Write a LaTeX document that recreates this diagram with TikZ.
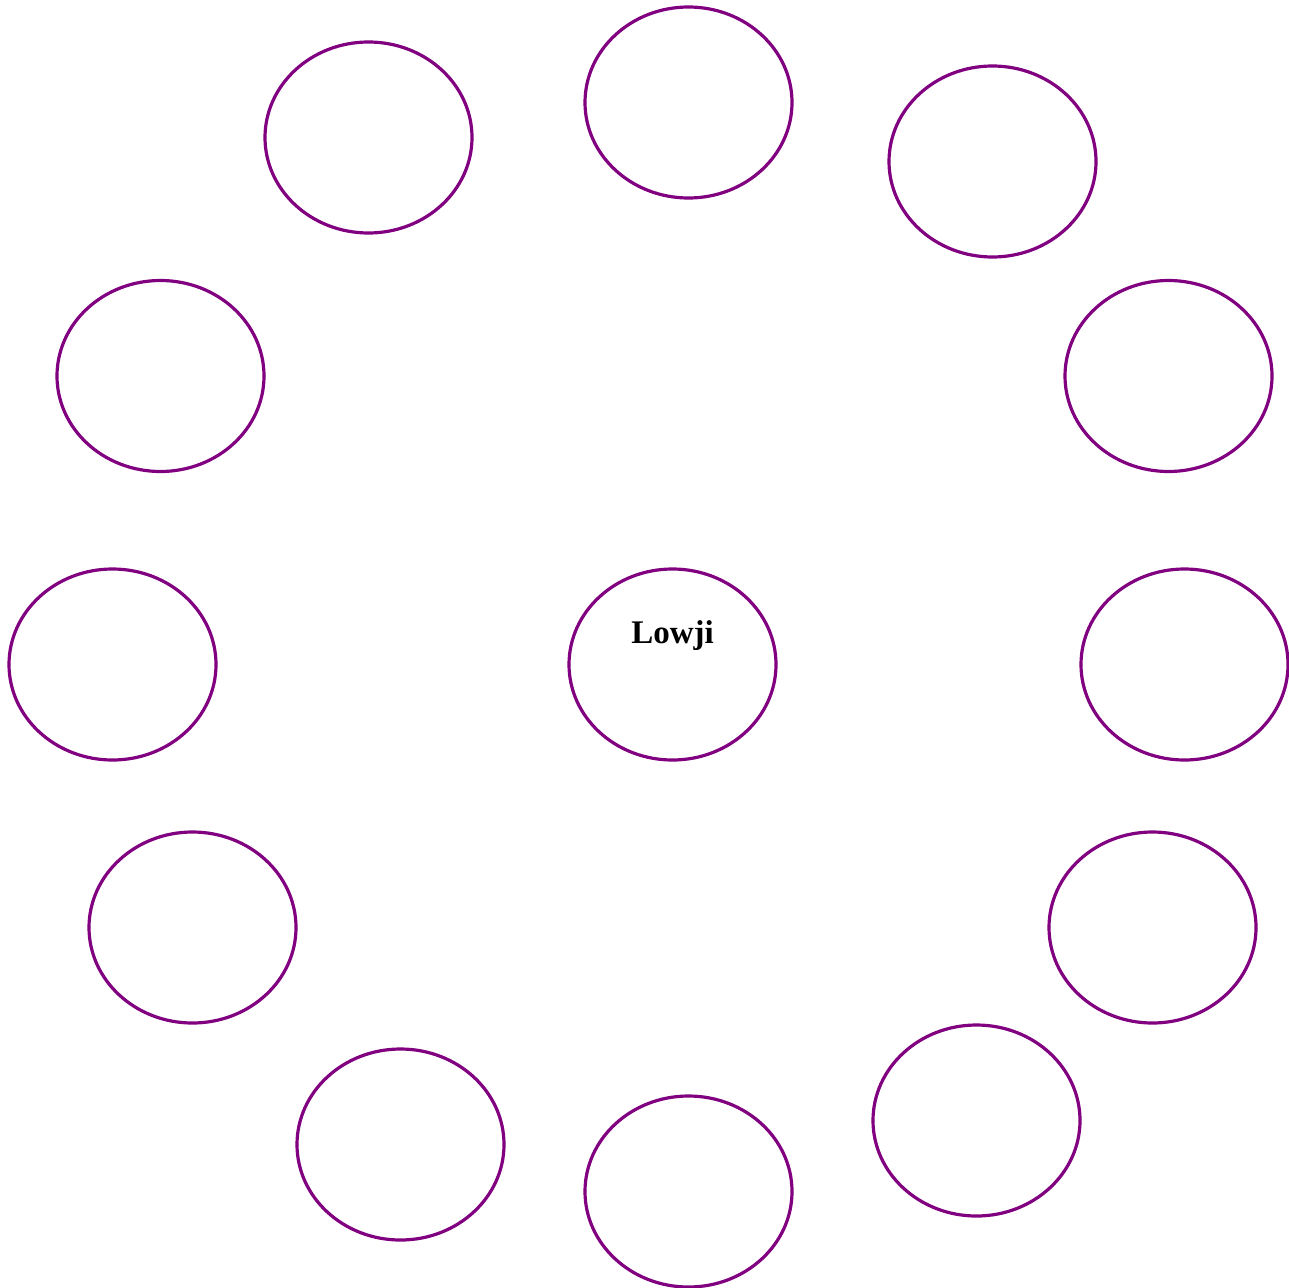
\documentclass[tikz,border=0pt]{standalone}
\usepackage{fontspec}
\setmainfont{Liberation Serif}
\usetikzlibrary{shapes.geometric}
\definecolor{ringpurple}{RGB}{128,0,128}
\begin{document}
\begin{tikzpicture}[x=1pt,y=-1pt,
  ring/.style={ellipse,draw=ringpurple,line width=3.2pt,minimum width=207pt,minimum height=191pt,inner sep=0pt}]
\useasboundingbox (0,0) rectangle (1289,1287);
\node[ring] (c) at (672.5,664.5) {};
\node[font=\bfseries\fontsize{33}{36}\selectfont] (lbl) at (672.5,636) {Lowji};
\node[ring] (n1) at (688.5,102.5) {};
\node[ring] (n2) at (992.5,161.5) {};
\node[ring] (n3) at (1168.5,376) {};
\node[ring] (n4) at (1184.5,664.5) {};
\node[ring] (n5) at (1152.5,927.5) {};
\node[ring] (n6) at (976.5,1120.5) {};
\node[ring] (n7) at (688.5,1191.5) {};
\node[ring] (n8) at (400.5,1144.5) {};
\node[ring] (n9) at (192.5,927.5) {};
\node[ring] (n10) at (112.5,664.5) {};
\node[ring] (n11) at (160.5,376) {};
\node[ring] (n12) at (368.5,137.5) {};
\end{tikzpicture}
\end{document}
